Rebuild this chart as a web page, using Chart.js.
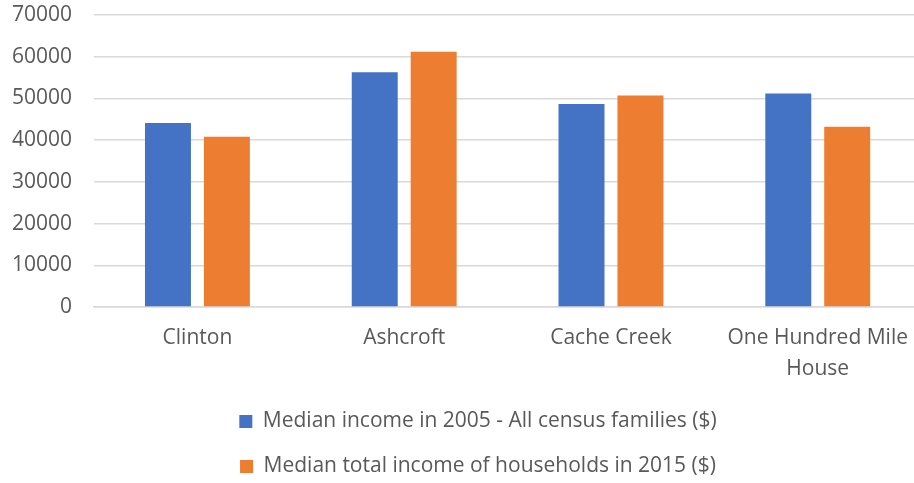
<!DOCTYPE html>
<html>
<head>
<meta charset="utf-8">
<script src="https://cdn.jsdelivr.net/npm/chart.js@4.4.1/dist/chart.umd.min.js"></script>
<style>
  html, body { margin: 0; padding: 0; background: #fff; overflow: hidden; }
  #wrap { width: 924px; height: 483px; }
</style>
</head>
<body>
<div id="wrap"><canvas id="income-chart"></canvas></div>
<script>
// --- Data ---
const communities = ['Clinton', 'Ashcroft', 'Cache Creek', ['One Hundred Mile', 'House']];
const income2005 = [44100, 56300, 48700, 51200];
const income2015 = [40800, 61200, 50700, 43200];
const seriesNames = [
    'Median income in 2005 - All census families ($)',
    'Median total income of households in 2015 ($)'
];
const yTicks = [0, 10000, 20000, 30000, 40000, 50000, 60000, 70000];

const textColor = '#595959';
const gridColor = '#d9d9d9';
const baseFont = { family: '"Open Sans", sans-serif', size: 21 };

// nudge the legend a little right of centre
const legendShift = {
    id: 'legendShift',
    afterLayout(chart) {
        const lg = chart.legend;
        if (lg) { lg.left += 16; lg.right += 16; }
    }
};

const ctx = document.getElementById('income-chart').getContext('2d');

new Chart(ctx, {
    type: 'bar',
    data: {
        labels: communities,
        datasets: [
            {
                label: seriesNames[0],
                data: income2005,
                backgroundColor: '#4472c4',
                categoryPercentage: 0.57,
                barPercentage: 0.78
            },
            {
                label: seriesNames[1],
                data: income2015,
                backgroundColor: '#ed7d31',
                categoryPercentage: 0.57,
                barPercentage: 0.78
            }
        ]
    },
    plugins: [legendShift],
    options: {
        responsive: true,
        maintainAspectRatio: false,
        animation: false,
        layout: { padding: { top: 0, right: 0, left: 0, bottom: -4 } },
        scales: {
            x: {
                grid: { display: false, drawTicks: false },
                border: { display: true, color: gridColor, width: 1.5 },
                ticks: {
                    color: textColor,
                    font: { ...baseFont, lineHeight: 1.45 },
                    padding: 16,
                    maxRotation: 0
                },
                afterFit: (axis) => { axis.height -= 13; }
            },
            y: {
                min: 0,
                max: 70000,
                afterBuildTicks: (axis) => {
                    axis.ticks = yTicks.map(v => ({ value: v }));
                },
                afterFit: (axis) => {
                    axis.width -= 10;
                    axis.paddingTop = 15;   // tick padding would otherwise push the plot down
                },
                grid: { color: gridColor, lineWidth: 1.5, drawTicks: false },
                border: { display: false },
                ticks: {
                    color: textColor,
                    font: baseFont,
                    padding: 22,
                    callback: (v) => String(v)
                }
            }
        },
        plugins: {
            tooltip: { enabled: false },
            legend: {
                position: 'bottom',
                labels: {
                    color: textColor,
                    font: baseFont,
                    boxWidth: 13,
                    boxHeight: 13,
                    padding: 24
                }
            }
        }
    }
});
</script>
</body>
</html>
